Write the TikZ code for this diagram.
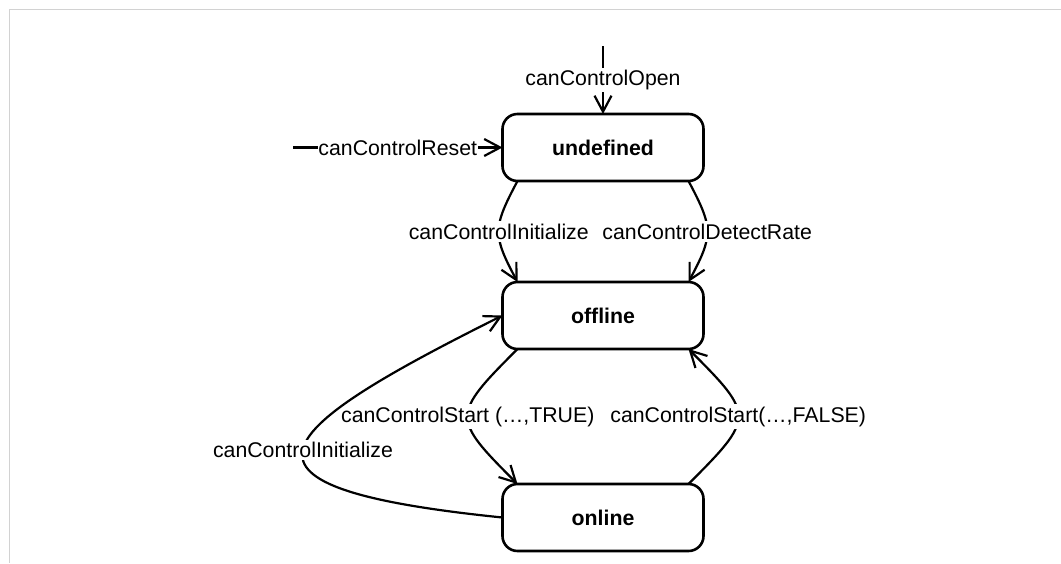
\documentclass[tikz,border=0pt]{standalone}
\usepackage{fontspec}
\setmainfont{Liberation Sans}
\usepackage{tikz}
\usetikzlibrary{arrows.meta}
\usetikzlibrary{positioning}

\begin{document}
\begin{tikzpicture}[->,>={Straight Barb[length=16pt,width=17pt]},x=1pt,y=1pt,line width=2.2pt,
  font=\fontsize{21.3pt}{25pt}\selectfont,
  state node/.style={rectangle,rounded corners=15pt,draw,line width=2.6pt,outer sep=0pt,
    minimum width=201pt,minimum height=67pt,font=\fontsize{21.3pt}{25pt}\selectfont\bfseries},
  label node/.style={fill=white,inner sep=2.5pt}]

  \useasboundingbox (0,0) rectangle (1061,-563);
  \draw[-,gray!35,line width=1.5pt] (1061,-9.5) -- (9.5,-9.5) -- (9.5,-563);

  \node[state node] (undefined) at (603,-147.5) {undefined};
  \node[state node] (offline) [below=101pt of undefined] {offline};
  \node[state node] (online) [below=135pt of offline] {online};
  \coordinate (open) at (603,-46);
  \coordinate (reset) at (293,-147.5);

  \draw (open) -- node[label node] {canControlOpen} (undefined);
  \draw (reset) -- node[label node,inner xsep=0.5pt] {canControlReset} (undefined);

  \draw ([xshift=15pt]undefined.south west) to[out=-118,in=118,looseness=1.35]
    node[label node] {canControlInitialize} ([xshift=15pt]offline.north west);
  \draw ([xshift=-15pt]undefined.south east) to[out=-62,in=62,looseness=1.35]
    node[label node] {canControlDetectRate} ([xshift=-15pt]offline.north east);

  \draw ([xshift=15pt]offline.south west) to[out=-135,in=135,looseness=1.78]
    node[label node] {canControlStart (…,TRUE)} ([xshift=15pt]online.north west);
  \draw ([xshift=-15pt]online.north east) to[out=45,in=-45,looseness=1.78]
    node[label node] {canControlStart(…,FALSE)} ([xshift=-15pt]offline.south east);

  \draw (online.west) .. controls (210,-487.7) and (263,-435) ..
    node[label node] {canControlInitialize} (offline.west);
\end{tikzpicture}
\end{document}
